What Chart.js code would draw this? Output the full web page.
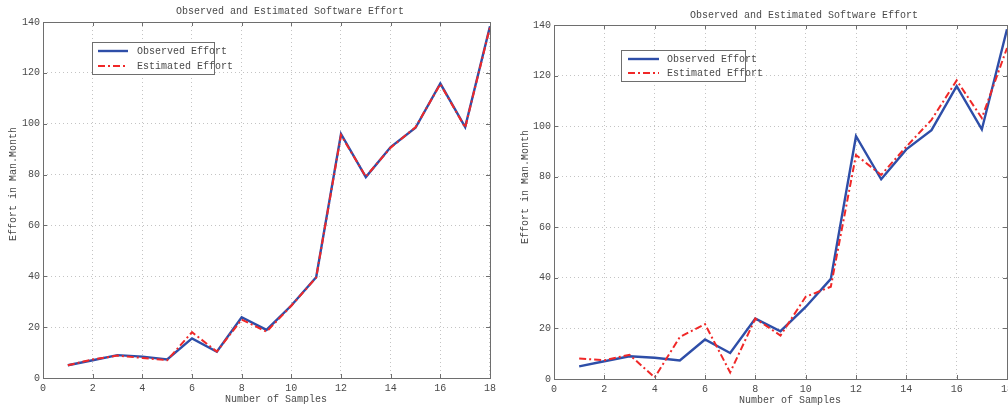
<!DOCTYPE html>
<html>
<head>
<meta charset="utf-8">
<script src="https://cdn.jsdelivr.net/npm/chart.js@4.4.1/dist/chart.umd.min.js"></script>
<style>
  html, body { margin: 0; padding: 0; background: #fff; overflow: hidden; width: 1008px; height: 409px; }
  canvas { position: absolute; top: 0; }
  #leftChart { left: 0; }
  #rightChart { left: 500px; }
</style>
</head>
<body>
<canvas id="leftChart" width="500" height="409"></canvas>
<canvas id="rightChart" width="520" height="409"></canvas>
<script>
// data
var samples = [1, 2, 3, 4, 5, 6, 7, 8, 9, 10, 11, 12, 13, 14, 15, 16, 17, 18];
var observedEffort = [5.0, 7.0, 9.0, 8.4, 7.3, 15.6, 10.3, 23.9, 18.9, 28.5, 39.6, 96.0, 79.0, 90.8, 98.4, 115.8, 98.7, 138.3];
var estimatedLeft = [5.0, 7.3, 8.8, 7.9, 7.0, 18.0, 10.4, 23.0, 18.2, 28.4, 39.5, 95.5, 79.2, 90.6, 98.6, 115.6, 98.5, 138.0];
var estimatedRight = [8.1, 7.4, 9.6, 0.6, 16.6, 21.7, 2.6, 23.9, 17.2, 32.5, 36.5, 88.6, 80.7, 91.9, 102.5, 118.1, 103.2, 130.9];
var xTicks = [0, 2, 4, 6, 8, 10, 12, 14, 16, 18];
var yTicks = [0, 20, 40, 60, 80, 100, 120, 140];

var chartTitle = "Observed and Estimated Software Effort";
var xTitle = "Number of Samples";
var yTitle = "Effort in Man.Month";

var FONT = "10px 'Liberation Mono', 'Courier New', monospace";
var textColor = "#4a4a4a";

function points(vals) {
    return samples.map(function (s, i) { return { x: s, y: vals[i] }; });
}

// draws the box, inward ticks, legend and labels like a matlab axes
var matlabAxes = {
    id: 'matlabAxes',
    afterDraw: function (chart) {
        var g = chart.options.plugins.matlabAxes;
        var ctx = chart.ctx;
        var a = chart.chartArea;
        var xs = chart.scales.x, ys = chart.scales.y;
        ctx.save();
        ctx.strokeStyle = "#6e6e6e";
        ctx.lineWidth = 1;
        ctx.strokeRect(Math.round(a.left) + 0.5, Math.round(a.top) + 0.5,
            Math.round(a.right - a.left), Math.round(a.bottom - a.top));
        ctx.beginPath();
        xTicks.forEach(function (t) {
            var px = Math.round(xs.getPixelForValue(t)) + 0.5;
            ctx.moveTo(px, a.bottom); ctx.lineTo(px, a.bottom - 4);
            ctx.moveTo(px, a.top); ctx.lineTo(px, a.top + 4);
        });
        yTicks.forEach(function (t) {
            var py = Math.round(ys.getPixelForValue(t)) + 0.5;
            ctx.moveTo(a.left, py); ctx.lineTo(a.left + 4, py);
            ctx.moveTo(a.right, py); ctx.lineTo(a.right - 4, py);
        });
        ctx.stroke();

        // legend
        var L = g.legend;
        ctx.fillStyle = "#fff";
        ctx.fillRect(L.x, L.y, L.w, L.h);
        ctx.strokeStyle = "#6e6e6e";
        ctx.lineWidth = 1;
        ctx.strokeRect(L.x + 0.5, L.y + 0.5, L.w, L.h);
        ctx.font = FONT;
        ctx.textBaseline = "middle";
        ctx.textAlign = "left";
        chart.data.datasets.forEach(function (ds, i) {
            var ry = L.y + L.row0 + i * L.rowGap;
            ctx.beginPath();
            ctx.strokeStyle = ds.borderColor;
            ctx.lineWidth = ds.borderWidth;
            ctx.setLineDash(ds.borderDash || []);
            ctx.moveTo(L.x + L.lineX0, ry);
            ctx.lineTo(L.x + L.lineX1, ry);
            ctx.stroke();
            ctx.setLineDash([]);
            ctx.fillStyle = textColor;
            ctx.fillText(ds.label, L.x + L.textX, ry);
        });

        // title and axis labels
        ctx.fillStyle = textColor;
        ctx.textAlign = "center";
        ctx.fillText(chartTitle, g.title.x, g.title.y);
        ctx.fillText(xTitle, g.xLabel.x, g.xLabel.y);
        ctx.translate(g.yLabel.x, g.yLabel.y);
        ctx.rotate(-Math.PI / 2);
        ctx.fillText(yTitle, 0, 0);
        ctx.restore();
    }
};

function makeChart(canvasId, estimated, geo) {
    var canvas = document.getElementById(canvasId);
    var W = canvas.width, H = canvas.height;
    return new Chart(canvas, {
        type: 'line',
        data: {
            datasets: [{
                label: "Observed Effort",
                data: points(observedEffort),
                borderColor: "rgb(46,78,168)",
                borderWidth: 2.4,
                pointRadius: 0,
                tension: 0,
                order: 2
            }, {
                label: "Estimated Effort",
                data: points(estimated),
                borderColor: "rgb(240,40,40)",
                borderWidth: 2,
                borderDash: [7, 3, 2, 3],
                pointRadius: 0,
                tension: 0,
                order: 1
            }]
        },
        options: {
            responsive: false,
            animation: false,
            layout: { padding: { left: 0, top: geo.area.top, right: W - geo.area.right, bottom: 0 } },
            plugins: {
                legend: { display: false },
                tooltip: { enabled: false },
                title: { display: false },
                matlabAxes: geo
            },
            scales: {
                x: {
                    type: 'linear',
                    min: 0, max: 18,
                    afterFit: function (s) { s.height = H - geo.area.bottom; },
                    afterBuildTicks: function (s) { s.ticks = xTicks.map(function (v) { return { value: v }; }); },
                    ticks: { font: { family: "'Liberation Mono'", size: 10 }, color: textColor, padding: 4, maxRotation: 0, autoSkip: false },
                    grid: { color: "#c4c4c4", drawTicks: false, lineWidth: 1 },
                    border: { display: false, dash: [1, 3] }
                },
                y: {
                    min: 0, max: 140,
                    afterFit: function (s) { s.width = geo.area.left; },
                    afterBuildTicks: function (s) { s.ticks = yTicks.map(function (v) { return { value: v }; }); },
                    ticks: { font: { family: "'Liberation Mono'", size: 10 }, color: textColor, padding: 3 },
                    grid: { color: "#c4c4c4", drawTicks: false, lineWidth: 1 },
                    border: { display: false, dash: [1, 3] }
                }
            }
        },
        plugins: [matlabAxes]
    });
}

makeChart('leftChart', estimatedLeft, {
    area: { left: 43, top: 22, right: 491, bottom: 378 },
    title: { x: 290, y: 11 },
    xLabel: { x: 276, y: 399 },
    yLabel: { x: 13, y: 184 },
    legend: { x: 92, y: 42, w: 122, h: 32, row0: 9, rowGap: 15, lineX0: 6, lineX1: 36, textX: 45 }
});

makeChart('rightChart', estimatedRight, {
    area: { left: 54, top: 25, right: 507, bottom: 379 },
    title: { x: 304, y: 15 },
    xLabel: { x: 290, y: 400 },
    yLabel: { x: 25, y: 187 },
    legend: { x: 121, y: 50, w: 124, h: 31, row0: 9, rowGap: 14, lineX0: 7, lineX1: 38, textX: 46 }
});
</script>
</body>
</html>
